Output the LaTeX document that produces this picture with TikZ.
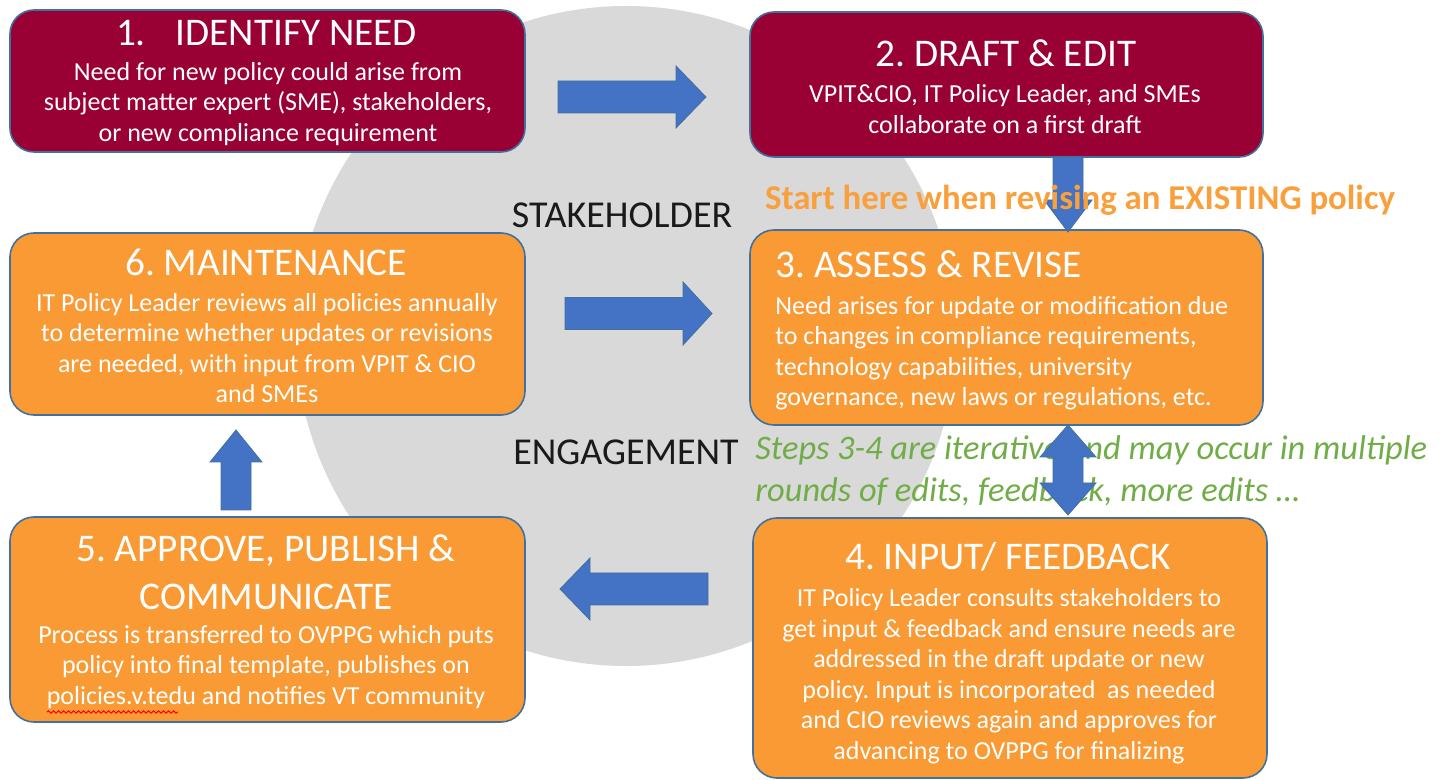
\documentclass[tikz,border=0pt]{standalone}
\usepackage{fontspec}
\setmainfont{Carlito}
\usetikzlibrary{decorations.pathmorphing}
\definecolor{maroon}{HTML}{990033}
\definecolor{orng}{HTML}{F99A34}
\definecolor{bord}{HTML}{41719C}
\definecolor{arrowblue}{HTML}{4472C4}
\definecolor{circgray}{HTML}{D9D9D9}
\definecolor{greentxt}{HTML}{70AD47}
\definecolor{orangetxt}{HTML}{F9A03C}
\definecolor{txtdark}{HTML}{1A1A1A}
\frenchspacing
\begin{document}
\begin{tikzpicture}[x=0.5pt,y=-0.5pt,
 box/.style={draw=bord, line width=0.8pt, rounded corners=12pt, inner sep=0pt},
 redbox/.style={box, fill=maroon},
 orbox/.style={box, fill=orng},
 boxtitle/.style={text=white, font=\fontsize{19.6}{24}\selectfont, inner sep=0pt, align=center},
 boxbody/.style={text=white, font=\fontsize{13}{15.25}\selectfont, align=center, inner sep=0pt},
 sidelabel/.style={text=txtdark, font=\fontsize{19}{22}\selectfont, inner sep=0pt},
 blockarrow/.style={fill=arrowblue, draw=bord, line width=0.4pt},
 pics/barrow/.style n args={4}{code={
   \filldraw[blockarrow] (-#1,-#3) -- ({#1-#2},-#3) -- ({#1-#2},-#4) -- (#1,0)
     -- ({#1-#2},#4) -- ({#1-#2},#3) -- (-#1,#3) -- cycle;}},
]
\useasboundingbox (0,0) rectangle (1452,780);
% background circle
\fill[circgray] (626,336) circle[radius=330];

% boxes
\node[redbox, minimum width=257.5pt, minimum height=71pt] (b1) at (267.5,81) {};
\node[redbox, minimum width=256.5pt, minimum height=72.5pt] (b2) at (1006.5,84.5) {};
\node[orbox, minimum width=256.5pt, minimum height=97.5pt] (b3) at (1006.5,327.5) {};
\node[orbox, minimum width=257pt, minimum height=130pt] (b4) at (1010,648) {};
\node[orbox, minimum width=257.5pt, minimum height=102.5pt] (b5) at (267.5,619.5) {};
\node[orbox, minimum width=257.5pt, minimum height=91pt] (b6) at (267.5,324) {};

% block arrows
\pic at (632,97) {barrow={74}{30}{16}{31}};
\pic at (638.5,313.5) {barrow={73.5}{29}{16}{31.5}};
\pic[rotate=180] at (634,589) {barrow={74}{30}{16}{31}};
\pic[rotate=90] at (236,470) {barrow={40}{32}{15}{26}};
\pic[rotate=-90] at (1068,194.5) {barrow={37.5}{32}{15}{24}};

% box texts
\node[boxtitle] (t1) at (266.5,33) {1.\hspace{15pt}IDENTIFY NEED};
\node[boxbody] (d1) at (268,104) {Need for new policy could arise from\\subject matter expert (SME), stakeholders,\\or new compliance requirement};

\node[boxtitle] (t2) at (1006,53) {2. DRAFT \& EDIT};
\node[boxbody] (d2) at (1005,109) {VPIT\&CIO, IT Policy Leader, and SMEs\\collaborate on a first draft};

\node[boxtitle, anchor=west] (t3) at (775,264) {3. ASSESS \& REVISE};
\node[boxbody, align=left, anchor=west] (d3) at (775,353) {Need arises for update or modification due\\to changes in compliance requirements,\\technology capabilities, university\\governance, new laws or regulations, etc.};

\node[boxtitle] (t6) at (266,262) {6. MAINTENANCE};
\node[boxbody] (d6) at (267,348) {IT Policy Leader reviews all policies annually\\to determine whether updates or revisions\\are needed, with input from VPIT \& CIO\\and SMEs};

\node[boxtitle] (t4) at (1008,557) {4. INPUT/ FEEDBACK};
\node[boxbody] (d4) at (1009,676) {IT Policy Leader consults stakeholders to\\get input \& feedback and ensure needs are\\addressed in the draft update or new\\policy. Input is incorporated\ \ as needed\\and CIO reviews again and approves for\\advancing to OVPPG for finalizing};

\node[boxtitle] (t5) at (266,572) {5. APPROVE, PUBLISH \&\\COMMUNICATE};
\node[boxbody] (d5) at (266,667) {Process is transferred to OVPPG which puts\\policy into final template, publishes on\\policies.v.tedu and notifies VT community};
\draw[red, line width=0.5pt, decorate, decoration={snake, amplitude=0.6pt, segment length=2.5pt}] (47,712) -- (178,712);

% side labels
\node[sidelabel] (stake) at (622,215) {STAKEHOLDER};
\node[sidelabel] (engage) at (626,452) {ENGAGEMENT};
\node[text=orangetxt, font=\bfseries\fontsize{17.4}{20}\selectfont, inner sep=0pt] (start) at (1080,200) {Start here when revising an EXISTING policy};
\node[text=greentxt, font=\itshape\fontsize{17.2}{21}\selectfont, align=left, anchor=west, inner sep=0pt] (iter) at (755,471) {Steps 3-4 are iterative and may occur in multiple\\rounds of edits, feedback, more edits \dots};

% double arrow between 3 and 4
\filldraw[blockarrow] (1068,425) -- (1096,457) -- (1083,457) -- (1083,483) -- (1096,483) -- (1068,515)
  -- (1040,483) -- (1053,483) -- (1053,457) -- (1040,457) -- cycle;
\end{tikzpicture}
\end{document}
